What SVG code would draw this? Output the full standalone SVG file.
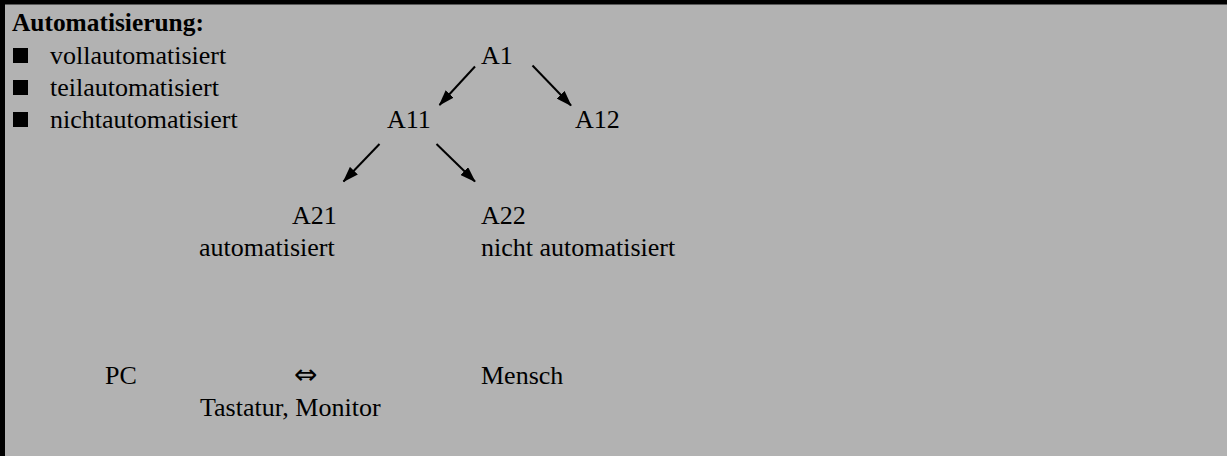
<svg xmlns="http://www.w3.org/2000/svg" width="1227" height="456" viewBox="0 0 1227 456">
<style>
  text { font-family: "Liberation Serif", "Times New Roman", Times, "DejaVu Serif", serif; font-size: 26px; fill: #000; }
  .b { font-weight: bold; font-size: 25.4px; }
  .sym { font-family: "DejaVu Sans", "DejaVu Serif", sans-serif; font-size: 28px; }
  .arr { stroke: #000; stroke-width: 2; fill: none; marker-end: url(#ah); }
</style>
<defs>
  <marker id="ah" viewBox="0 0 16 11" refX="15" refY="5.5" markerWidth="16" markerHeight="11" markerUnits="userSpaceOnUse" orient="auto">
    <path d="M0,0 L16,5.5 L0,11 z" fill="#000"/>
  </marker>
</defs>
<rect x="0" y="0" width="1227" height="456" fill="#b2b2b2"/>
<rect x="0" y="0" width="1227" height="4.5" fill="#000"/>
<rect x="0" y="0" width="5" height="456" fill="#000"/>

<g id="legend">
  <text class="b" x="12" y="31">Automatisierung:</text>
  <rect x="13" y="48" width="15" height="15" fill="#000"/>
  <text x="50" y="64">vollautomatisiert</text>
  <rect x="13" y="80" width="15" height="15" fill="#000"/>
  <text x="50" y="96">teilautomatisiert</text>
  <rect x="13" y="112" width="15" height="15" fill="#000"/>
  <text x="50" y="128">nichtautomatisiert</text>
</g>

<g id="A1"><text x="481" y="64">A1</text></g>
<g id="A11"><text x="387" y="128">A11</text></g>
<g id="A12"><text x="575" y="128">A12</text></g>
<g id="A21">
  <text x="292" y="224">A21</text>
  <text x="199" y="256">automatisiert</text>
</g>
<g id="A22">
  <text x="481" y="224">A22</text>
  <text x="481" y="256">nicht automatisiert</text>
</g>
<g id="PC"><text x="105" y="384">PC</text></g>
<g id="interface">
  <text class="sym" x="294" y="384">⇔</text>
  <text x="200" y="416">Tastatur, Monitor</text>
</g>
<g id="Mensch"><text x="481" y="384">Mensch</text></g>

<g id="connectors">
  <line class="arr" x1="475" y1="66.5" x2="439.5" y2="105"/>
  <line class="arr" x1="532.5" y1="65.5" x2="571" y2="105.5"/>
  <line class="arr" x1="379.5" y1="144" x2="343.5" y2="181.5"/>
  <line class="arr" x1="436.5" y1="144" x2="475" y2="181.5"/>
</g>
</svg>
